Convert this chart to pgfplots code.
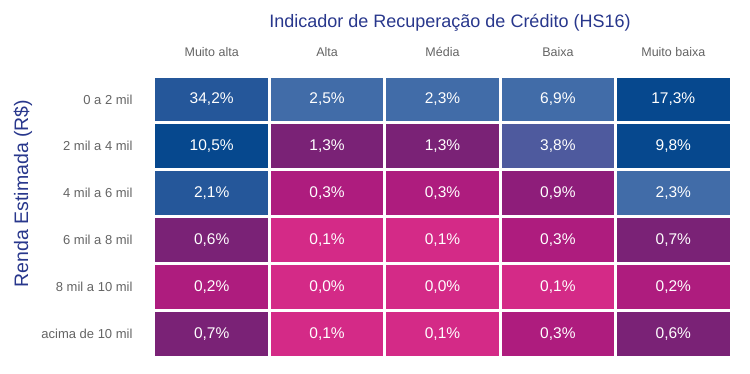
\documentclass[border=0pt]{standalone}
\usepackage{fontspec}
\setmainfont{Liberation Sans}
\usepackage{pgfplots}
\pgfplotsset{compat=1.18}
\definecolor{titleblue}{RGB}{40,55,140}
\definecolor{lblgray}{RGB}{100,100,100}
\begin{document}
\begin{tikzpicture}
\useasboundingbox (0,0) rectangle (750pt,373pt);
\begin{axis}[
  at={(154pt,16pt)}, anchor=south west,
  scale only axis, width=577pt, height=281pt,
  xmin=-0.5, xmax=4.5, ymin=-0.5, ymax=5.5, y dir=reverse,
  enlargelimits=false,
  axis line style={draw=none}, tick style={draw=none},
  xtick={0,1,2,3,4},
  xticklabels={Muito alta,Alta,Média,Baixa,Muito baixa},
  xticklabel pos=upper,
  xticklabel style={font=\fontsize{12.5}{14}\selectfont, text=lblgray, anchor=base, yshift=20pt},
  ytick={0,1,2,3,4,5},
  yticklabels={0 a 2 mil,2 mil a 4 mil,4 mil a 6 mil,6 mil a 8 mil,8 mil a 10 mil,acima de 10 mil},
  yticklabel style={font=\fontsize{13}{15}\selectfont, text=lblgray, anchor=east, xshift=-18pt},
  ylabel={Renda Estimada (R\$)},
  every axis y label/.style={at={(axis description cs:-0.227,0.582)}, rotate=90, anchor=center, font=\fontsize{19.5}{22}\selectfont, text=titleblue},
  title={Indicador de Recuperação de Crédito (HS16)},
  every axis title/.style={at={(axis description cs:0.513,1.174)}, anchor=base, font=\fontsize{18}{21}\selectfont, text=titleblue},
  colormap={cells}{rgb255=(37,87,154) rgb255=(65,108,168) rgb255=(6,72,142) rgb255=(78,90,158) rgb255=(122,34,118) rgb255=(142,29,122) rgb255=(174,28,126) rgb255=(212,42,135)},
  colormap access=direct,
]
\addplot[matrix plot*, mesh/cols=5, point meta=explicit, draw=white, line width=3pt] table[meta=c] {
x y c
0 0 0
1 0 1
2 0 1
3 0 1
4 0 2
0 1 2
1 1 4
2 1 4
3 1 3
4 1 2
0 2 0
1 2 6
2 2 6
3 2 5
4 2 1
0 3 4
1 3 7
2 3 7
3 3 6
4 3 4
0 4 6
1 4 7
2 4 7
3 4 7
4 4 6
0 5 4
1 5 7
2 5 7
3 5 6
4 5 4
};
\addplot[only marks, mark=none, point meta=explicit symbolic,
  nodes near coords={\pgfplotspointmeta\%},
  every node near coord/.append style={anchor=center, text=white, font=\fontsize{15.5}{18}\selectfont}] table[meta=v] {
x y v
0 0 34,2
1 0 2,5
2 0 2,3
3 0 6,9
4 0 17,3
0 1 10,5
1 1 1,3
2 1 1,3
3 1 3,8
4 1 9,8
0 2 2,1
1 2 0,3
2 2 0,3
3 2 0,9
4 2 2,3
0 3 0,6
1 3 0,1
2 3 0,1
3 3 0,3
4 3 0,7
0 4 0,2
1 4 0,0
2 4 0,0
3 4 0,1
4 4 0,2
0 5 0,7
1 5 0,1
2 5 0,1
3 5 0,3
4 5 0,6
};
\end{axis}
\end{tikzpicture}
\end{document}
